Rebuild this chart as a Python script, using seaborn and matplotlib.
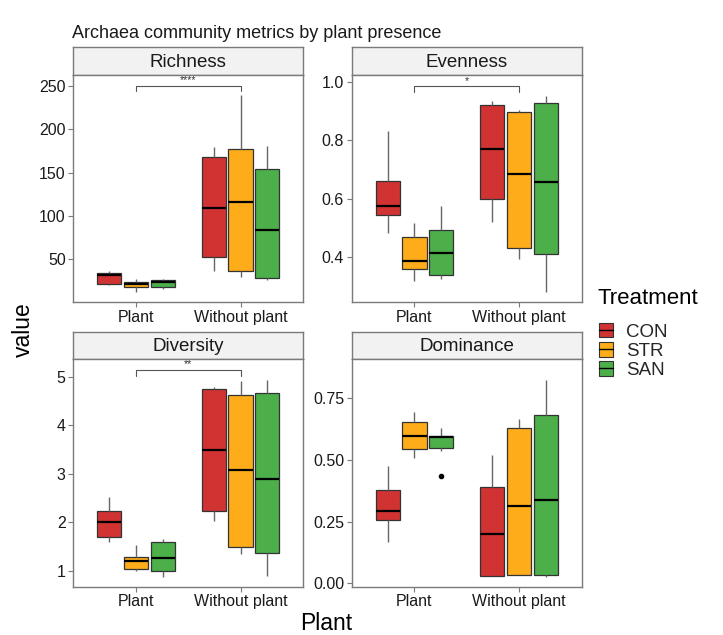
import numpy as np
import pandas as pd
import matplotlib
matplotlib.use("Agg")
import matplotlib.pyplot as plt
import seaborn as sns
from matplotlib.patches import Patch
from matplotlib.lines import Line2D

sns.set_style("white")
plt.rcParams["font.family"] = ["Liberation Sans", "DejaVu Sans"]

treatments = ["CON", "STR", "SAN"]
plant_levels = ["Plant", "Without plant"]
palette = {"CON": "#D13232", "STR": "#FEAC1A", "SAN": "#4CAF4A"}

# Observations per group, in the order:
# Plant CON, Plant STR, Plant SAN, Without plant CON, Without plant STR, Without plant SAN
richness = [
    [20.5, 22.1, 32.0, 34.7, 36.6],
    [12.8, 18.2, 21.3, 24.0, 27.0],
    [15.8, 18.6, 23.7, 26.0, 27.0],
    [36.9, 52.8, 109.6, 167.9, 179.0],
    [29.7, 36.5, 115.7, 177.5, 239.6],
    [26.3, 29.0, 84.2, 154.1, 180.9],
]
evenness = [
    [0.481, 0.545, 0.574, 0.660, 0.832],
    [0.318, 0.359, 0.385, 0.467, 0.517],
    [0.322, 0.338, 0.413, 0.493, 0.573],
    [0.519, 0.599, 0.771, 0.923, 0.937],
    [0.392, 0.431, 0.685, 0.897, 0.904],
    [0.279, 0.410, 0.657, 0.930, 0.953],
]
diversity = [
    [1.59, 1.70, 2.00, 2.23, 2.51],
    [1.00, 1.04, 1.19, 1.29, 1.52],
    [0.88, 0.99, 1.26, 1.59, 1.65],
    [2.02, 2.24, 3.48, 4.75, 4.79],
    [1.34, 1.49, 3.08, 4.62, 4.92],
    [0.90, 1.36, 2.90, 4.67, 4.93],
]
dominance = [
    [0.166, 0.255, 0.292, 0.378, 0.477],
    [0.509, 0.543, 0.596, 0.655, 0.697],
    [0.435, 0.536, 0.550, 0.570, 0.595, 0.598, 0.599, 0.615, 0.630],
    [0.031, 0.031, 0.199, 0.391, 0.519],
    [0.032, 0.035, 0.313, 0.631, 0.668],
    [0.027, 0.035, 0.338, 0.681, 0.827],
]

metric_names = ["Richness", "Evenness", "Diversity", "Dominance"]
metric_values = [richness, evenness, diversity, dominance]
group_keys = [(p, t) for p in plant_levels for t in treatments]

rows = []
for name, groups in zip(metric_names, metric_values):
    for (plant, trt), obs in zip(group_keys, groups):
        for v in obs:
            rows.append({"metric": name, "Plant": plant, "Treatment": trt, "value": v})
df = pd.DataFrame(rows)

# per-panel axis settings
ylims = {"Richness": (0.6, 262.3), "Evenness": (0.243, 1.025),
         "Diversity": (0.67, 5.36), "Dominance": (-0.014, 0.909)}
yticks = {"Richness": [50, 100, 150, 200, 250],
          "Evenness": [0.4, 0.6, 0.8, 1.0],
          "Diversity": [1, 2, 3, 4, 5],
          "Dominance": [0.0, 0.25, 0.5, 0.75]}
ytick_labels = {"Richness": ["50", "100", "150", "200", "250"],
                "Evenness": ["0.4", "0.6", "0.8", "1.0"],
                "Diversity": ["1", "2", "3", "4", "5"],
                "Dominance": ["0.00", "0.25", "0.50", "0.75"]}
# significance brackets: (label, bracket top, leg bottom)
signif = {"Richness": ("****", 250.0, 244.2),
          "Evenness": ("*", 0.986, 0.966),
          "Diversity": ("**", 5.14, 5.01)}

W, H = 723, 635
fig = plt.figure(figsize=(W / 100, H / 100), dpi=100)

def fx(px):
    return px / W

def fy(py):
    return 1 - py / H

panel_px = {
    "Richness": (73.3, 75.0, 303.3, 302.3),
    "Evenness": (351.7, 75.0, 581.7, 302.3),
    "Diversity": (73.3, 359.3, 303.3, 586.7),
    "Dominance": (351.7, 359.3, 581.7, 586.7),
}
strip_h = 27.7
frame_col = "#7a7a7a"

for name in metric_names:
    l, t, r, b = panel_px[name]

    # facet strip
    sax = fig.add_axes([fx(l), fy(t), fx(r - l), strip_h / H])
    sax.set_facecolor("#F2F2F2")
    sax.set_xticks([])
    sax.set_yticks([])
    for sp in sax.spines.values():
        sp.set_color(frame_col)
        sp.set_linewidth(1.0)
    sax.text(0.5, 0.45, name, ha="center", va="center", fontsize=13.5,
             color="#1a1a1a", transform=sax.transAxes)

    ax = fig.add_axes([fx(l), fy(b), fx(r - l), (b - t) / H])
    sub = df[df["metric"] == name]
    sns.boxplot(
        data=sub, x="Plant", y="value", hue="Treatment",
        order=plant_levels, hue_order=treatments, palette=palette,
        saturation=1, width=0.77, gap=0.1, linecolor="#333333", linewidth=0.9,
        fliersize=3.0,
        flierprops=dict(marker="o", markerfacecolor="black", markeredgecolor="black"),
        medianprops=dict(color="black", linewidth=1.6),
        whiskerprops=dict(color="#666666", linewidth=1.0),
        capprops=dict(linewidth=0),
        legend=False, ax=ax,
    )
    ax.set_xlim(-0.6, 1.6)
    ax.set_ylim(*ylims[name])
    ax.set_yticks(yticks[name])
    ax.set_yticklabels(ytick_labels[name])
    ax.set_xlabel("")
    ax.set_ylabel("")
    for sp in ax.spines.values():
        sp.set_visible(True)
        sp.set_color(frame_col)
        sp.set_linewidth(1.0)
    ax.tick_params(bottom=True, left=True, direction="out", length=3.5,
                   width=0.8, color=frame_col, labelsize=11.5,
                   labelcolor="#1a1a1a", pad=2)

    if name in signif:
        lab, ytop, yleg = signif[name]
        ax.plot([0, 0, 1, 1], [yleg, ytop, ytop, yleg], color="#555555", lw=0.8)
        span = ylims[name][1] - ylims[name][0]
        ax.text(0.5, ytop + span * 0.024, lab, ha="center", va="center",
                fontsize=7.5, color="#333333")

fig.text(fx(72), fy(33), "Archaea community metrics by plant presence",
         fontsize=13, ha="left", va="center", color="#1a1a1a")
fig.text(fx(23), fy(330), "value", rotation=90, fontsize=16.5,
         ha="center", va="center", color="black")
fig.text(fx(326), fy(623), "Plant", fontsize=16.5, ha="center",
         va="center", color="black")

# legend
fig.text(fx(597), fy(298), "Treatment", fontsize=16, ha="left",
         va="center", color="black")
handles = [(Patch(facecolor=palette[t], edgecolor="#333333", linewidth=0.8),
            Line2D([], [], color="black", linewidth=1.0)) for t in treatments]
leg = fig.legend(handles, treatments, loc="upper left",
                 bbox_to_anchor=(fx(599), fy(323)), frameon=False,
                 fontsize=13.5, handlelength=0.75,
                 handleheight=0.8, handletextpad=0.7, labelspacing=0.08,
                 borderpad=0, borderaxespad=0)

fig.savefig("out.png", dpi=100, facecolor="white")
